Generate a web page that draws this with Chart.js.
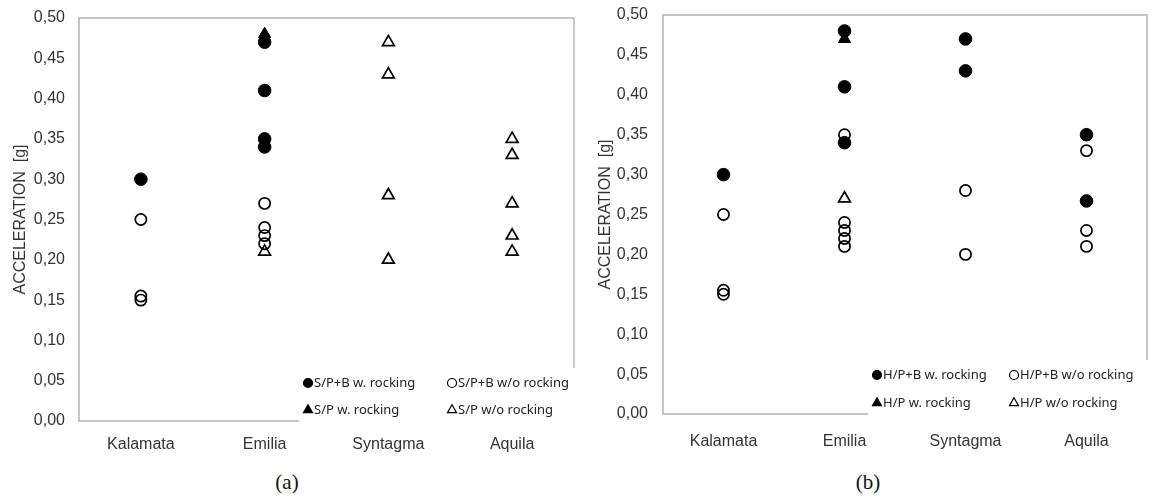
<!DOCTYPE html>
<html lang="en">
<head>
<meta charset="UTF-8">
<title>Peak acceleration per record</title>
<script src="https://cdn.jsdelivr.net/npm/chart.js@4"></script>
<style>
    body {
        margin: 0;
        width: 1151px;
        height: 499px;
        background: #FFFFFF;
        position: relative;
        overflow: hidden;
    }
    .panel {
        position: absolute;
        top: 0;
        height: 460px;
    }
    #panelA { left: 0; width: 580px; }
    #panelB { left: 580px; width: 571px; }
    .caption {
        position: absolute;
        top: 470px;
        font-family: "Liberation Serif", "Times New Roman", serif;
        font-size: 21px;
        color: #111;
        transform: translateX(-50%);
    }
</style>
</head>
<body>
<div class="panel" id="panelA"><canvas id="chartA"></canvas></div>
<div class="panel" id="panelB"><canvas id="chartB"></canvas></div>
<div class="caption" style="left:287px">(a)</div>
<div class="caption" style="left:868px">(b)</div>
<script>
    // Records on the x axis
    const sites = ['Kalamata', 'Emilia', 'Syntagma', 'Aquila'];

    // (a) S/P systems, values per record [g]
    const aPBRock   = [[0.30], [0.47, 0.41, 0.35, 0.34], [], []];
    const aPBNoRock = [[0.25, 0.155, 0.15], [0.27, 0.24, 0.23, 0.22], [], []];
    const aPRock    = [[], [0.48], [], []];
    const aPNoRock  = [[], [0.21], [0.47, 0.43, 0.28, 0.20], [0.35, 0.33, 0.27, 0.23, 0.21]];
    const aLabels = ['S/P+B w. rocking', 'S/P+B w/o rocking', 'S/P w. rocking', 'S/P w/o rocking'];

    // (b) H/P systems, values per record [g]
    const bPBRock   = [[0.30], [0.48, 0.41, 0.34], [0.47, 0.43], [0.35, 0.267]];
    const bPBNoRock = [[0.25, 0.155, 0.15], [0.35, 0.24, 0.23, 0.22, 0.21], [0.28, 0.20], [0.33, 0.23, 0.21]];
    const bPRock    = [[], [0.47], [], []];
    const bPNoRock  = [[], [0.27], [], []];
    const bLabels = ['H/P+B w. rocking', 'H/P+B w/o rocking', 'H/P w. rocking', 'H/P w/o rocking'];

    const tickFont = '"Liberation Sans", Arial, sans-serif';
    const legendFont = '"Noto Sans", "Open Sans", sans-serif';

    // filled circle, open circle, filled triangle, open triangle
    const markers = [
        { pointStyle: 'circle',   radius: 6.3, fill: '#000', border: 1 },
        { pointStyle: 'circle',   radius: 5.6, fill: 'rgba(0,0,0,0)', border: 1.7 },
        { pointStyle: 'triangle', radius: 7,   fill: '#000', border: 1 },
        { pointStyle: 'triangle', radius: 6.8, fill: 'rgba(0,0,0,0)', border: 1.7 }
    ];

    function toPoints(series) {
        return series.flatMap((vals, i) => vals.map(v => ({ x: sites[i], y: v })));
    }

    // invisible tick marks keep the labels away from the frame
    function spacer(len) {
        return { display: true, drawOnChartArea: false, drawTicks: true, tickLength: len, tickColor: 'rgba(0,0,0,0)' };
    }

    // grey frame round the plot area
    const framePlugin = {
        id: 'frame',
        beforeDatasetsDraw(chart) {
            const { ctx, chartArea: a } = chart;
            ctx.save();
            ctx.strokeStyle = '#A6A6A6';
            ctx.lineWidth = 1.3;
            ctx.strokeRect(a.left, a.top, a.right - a.left, a.bottom - a.top);
            ctx.restore();
        }
    };

    // two-column legend on a white box in the lower right corner
    function boxLegend(labels, geom) {
        return {
            id: 'boxLegend',
            afterDraw(chart) {
                const { ctx, chartArea: a } = chart;
                const cols = geom.legendCols.map(d => a.right - d);
                const rows = geom.legendRows.map(d => a.bottom - d);
                ctx.save();
                ctx.fillStyle = '#FFFFFF';
                ctx.fillRect(cols[0] - 9, rows[0] - 15, a.right + 2 - (cols[0] - 9), a.bottom + 3 - (rows[0] - 15));
                ctx.font = '13px ' + legendFont;
                ctx.textBaseline = 'middle';
                labels.forEach((label, i) => {
                    const x = cols[i % 2];
                    const y = rows[Math.floor(i / 2)];
                    const m = markers[i];
                    ctx.fillStyle = m.fill;
                    ctx.strokeStyle = '#000';
                    ctx.lineWidth = 1.2;
                    Chart.helpers.drawPoint(ctx, {
                        pointStyle: m.pointStyle,
                        radius: m.pointStyle === 'circle' ? 4.5 : 5.2,
                        borderWidth: 1.2,
                        rotation: 0
                    }, x, y);
                    ctx.fillStyle = '#222';
                    ctx.fillText(label, x + 6, y + 0.5);
                });
                ctx.restore();
            }
        };
    }

    function makeChart(id, seriesList, labels, geom) {
        const datasets = seriesList.map((series, i) => ({
            label: labels[i],
            data: toPoints(series),
            showLine: false,
            pointStyle: markers[i].pointStyle,
            pointRadius: markers[i].radius,
            pointHoverRadius: markers[i].radius,
            pointBackgroundColor: markers[i].fill,
            pointBorderColor: '#000',
            pointBorderWidth: markers[i].border
        }));

        return new Chart(document.getElementById(id), {
            type: 'line',
            data: { labels: sites, datasets: datasets },
            options: {
                responsive: true,
                maintainAspectRatio: false,
                animation: false,
                layout: {
                    autoPadding: false,
                    padding: { top: geom.top, right: geom.right, left: 0, bottom: 0 }
                },
                plugins: {
                    legend: { display: false },
                    tooltip: { enabled: false }
                },
                scales: {
                    x: {
                        type: 'category',
                        offset: true,
                        grid: spacer(geom.xPad),
                        border: { display: false },
                        ticks: {
                            padding: 0,
                            maxRotation: 0,
                            color: '#333',
                            font: { size: 16, family: tickFont }
                        },
                        afterFit: s => { s.height = geom.bottom; }
                    },
                    y: {
                        min: 0,
                        max: 0.5,
                        grid: spacer(geom.tickPad),
                        border: { display: false },
                        ticks: {
                            stepSize: 0.05,
                            padding: 0,
                            color: '#333',
                            font: { size: 16, family: tickFont },
                            callback: v => v.toFixed(2).replace('.', ',')
                        },
                        title: {
                            display: true,
                            text: 'ACCELERATION  [g]',
                            color: '#333',
                            font: { size: 16, family: tickFont },
                            padding: { top: geom.titleX - 9.6, bottom: 0 }
                        },
                        afterFit: s => { s.width = geom.left; }
                    }
                }
            },
            plugins: [framePlugin, boxLegend(labels, geom)]
        });
    }

    makeChart('chartA', [aPBRock, aPBNoRock, aPRock, aPNoRock], aLabels, {
        left: 79, top: 18, right: 6, bottom: 39, tickPad: 14, xPad: 14, titleX: 21,
        legendCols: [266, 122], legendRows: [38, 11]
    });
    makeChart('chartB', [bPBRock, bPBNoRock, bPRock, bPNoRock], bLabels, {
        left: 83, top: 15, right: 4, bottom: 46, tickPad: 15, xPad: 18, titleX: 25.5,
        legendCols: [270, 133], legendRows: [39, 11]
    });
</script>
</body>
</html>
